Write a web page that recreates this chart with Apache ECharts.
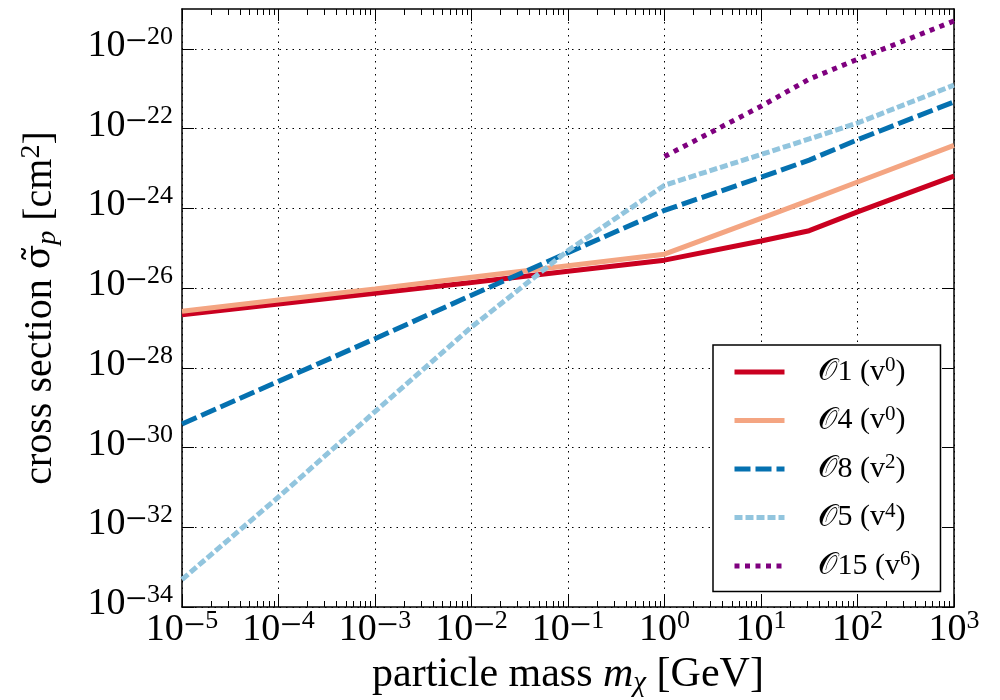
<!DOCTYPE html>
<html><head><meta charset="utf-8">
<script src="https://cdn.jsdelivr.net/npm/echarts@6/dist/echarts.min.js"></script>
<style>html,body{margin:0;padding:0;background:#fff}#c{width:1000px;height:700px}</style>
</head><body><div id="c"></div>
<script>
// particle mass (GeV)
const massGeV = [1e-5, 1e-4, 1e-3, 1e-2, 1e-1, 1, 10, 31.6, 100, 1000];
// cross sections (cm^2)
const sigmaO1  = [2.14e-27, 3.98e-27, 7.41e-27, 1.38e-26, 2.63e-26, 5.01e-26, 1.51e-25, 2.75e-25, 8.13e-25, 6.46e-24];
const sigmaO4  = [2.63e-27, 5.01e-27, 9.55e-27, 1.86e-26, 3.63e-26, 7.08e-26, 5.62e-25, 1.58e-24, 4.57e-24, 3.80e-23];
const sigmaO8  = [3.89e-30, 4.57e-29, 5.37e-28, 6.61e-27, 7.76e-26, 8.91e-25, 6.03e-24, 1.62e-23, 5.25e-23, 4.68e-22];
const sigmaO5  = [4.90e-34, 5.75e-32, 7.94e-30, 1.05e-27, 8.71e-26, 3.80e-24, 2.24e-23, 5.50e-23, 1.38e-22, 1.23e-21];
const sigmaO15 = [null, null, null, null, null, 2.00e-23, 3.63e-22, 1.74e-21, 5.50e-21, 5.01e-20];

const seriesOperators = ['1', '4', '8', '5', '15'];
const seriesVelocityPowers = ['0', '0', '2', '4', '6'];
const seriesValues = [sigmaO1, sigmaO4, sigmaO8, sigmaO5, sigmaO15];

const xTickExponents = [-5, -4, -3, -2, -1, 0, 1, 2, 3];
const yTickExponents = [-34, -32, -30, -28, -26, -24, -22, -20];

const colors = ['#ca0020', '#f4a582', '#0571b0', '#92c5de', '#7f007f'];
const dashes = ['solid', 'solid', [16, 5], [8, 3], [5, 5.5]];

const FONT = 'Liberation Serif';
const pow10 = n => Number('1e' + n);
const xMajor = xTickExponents.map(pow10);
const yMajor = yTickExponents.map(pow10);
const xMinor = [];
for (let n = -5; n < 3; n++) for (let k = 2; k <= 9; k++) xMinor.push(Number(k + 'e' + n));

const tickRich = {
  b: { fontFamily: FONT, fontSize: 38, lineHeight: 44, color: '#000' },
  m: { fontFamily: FONT, fontSize: 38, lineHeight: 19, verticalAlign: 'top', color: '#000' },
  s: { fontFamily: FONT, fontSize: 26, lineHeight: 26, verticalAlign: 'top', color: '#000' }
};
function powLabel(v) {
  const e = Math.round(Math.log10(v));
  return '{b|10}' + (e < 0 ? '{m|\u2212}{s|' + (-e) + '}' : '{s|' + e + '}');
}

const names = seriesOperators.map((o, i) => 'O' + o + ' (v' + seriesVelocityPowers[i] + ')');

const series = seriesValues.map((vals, i) => ({
  name: names[i],
  type: 'line',
  xAxisIndex: 0, yAxisIndex: 0,
  data: massGeV.map((m, j) => [m, vals[j]]).filter(p => p[1] != null),
  symbol: 'none',
  showSymbol: false,
  animation: false,
  lineStyle: { color: colors[i], width: 5, type: dashes[i], cap: 'butt' },
  itemStyle: { color: colors[i] }
}));

const baseX = { type: 'log', logBase: 10, min: 1e-5, max: 1e3, gridIndex: 0 };
const baseY = { type: 'log', logBase: 10, min: 1e-34, max: 1e-19, gridIndex: 0 };
const hidden = { axisLabel: { show: false }, splitLine: { show: false } };

const option = {
  backgroundColor: '#fff',
  animation: false,
  grid: { left: 182, right: 46, top: 9, bottom: 93, containLabel: false, outerBoundsMode: 'none' },
  legend: {
    orient: 'vertical', left: 713, top: 345,
    padding: [10, 20, 10, 19],
    itemGap: 16, itemWidth: 50, itemHeight: 6,
    backgroundColor: '#fff', borderColor: '#000', borderWidth: 1.5, borderRadius: 0,
    data: names,
    lineStyle: { width: 5 },
    itemStyle: { opacity: 0 },
    formatter: name => {
      const i = names.indexOf(name);
      return '{o|\uD835\uDCAA}{n|' + seriesOperators[i] + ' (v}{s|' + seriesVelocityPowers[i] + '}{n|)}';
    },
    textStyle: {
      fontFamily: FONT, fontSize: 30, color: '#000', padding: [0, 0, 0, 28],
      rich: {
        o: { fontFamily: FONT, fontSize: 31, lineHeight: 34, color: '#000' },
        n: { fontFamily: FONT, fontSize: 30, lineHeight: 34, color: '#000' },
        s: { fontFamily: FONT, fontSize: 21, lineHeight: 22, verticalAlign: 'top', color: '#000' }
      }
    }
  },
  xAxis: [
    Object.assign({}, baseX, {
      position: 'bottom',
      name: '{t|particle mass }{i|m}{sub|\u03C7}{t| [GeV]}',
      nameLocation: 'middle', nameGap: 45, nameMoveOverlap: false,
      nameTextStyle: {
        rich: {
          t: { fontFamily: FONT, fontSize: 42, lineHeight: 46, color: '#000' },
          i: { fontFamily: FONT, fontSize: 42, lineHeight: 46, fontStyle: 'italic', color: '#000' },
          sub: { fontFamily: FONT, fontSize: 29, lineHeight: 20, verticalAlign: 'bottom', fontStyle: 'italic', color: '#000' }
        }
      },
      axisLine: { show: true, onZero: false, lineStyle: { color: '#000', width: 1.5 } },
      axisTick: { show: true, inside: true, length: 12, customValues: xMajor, lineStyle: { color: '#000', width: 1 } },
      axisLabel: { show: true, customValues: xMajor, margin: 1, formatter: powLabel, rich: tickRich, hideOverlap: false, showMinLabel: true, showMaxLabel: true },
      splitLine: { show: true, lineStyle: { color: '#000', width: 1, type: [1.5, 5] } },
      minorTick: { show: false }
    }),
    Object.assign({}, baseX, hidden, {
      position: 'bottom',
      axisLine: { show: false, onZero: false },
      axisTick: { show: true, inside: true, length: 6, customValues: xMinor, lineStyle: { color: '#000', width: 1 } }
    }),
    Object.assign({}, baseX, hidden, {
      position: 'top',
      axisLine: { show: true, onZero: false, lineStyle: { color: '#000', width: 1.5 } },
      axisTick: { show: true, inside: true, length: 12, customValues: xMajor, lineStyle: { color: '#000', width: 1 } }
    }),
    Object.assign({}, baseX, hidden, {
      position: 'top',
      axisLine: { show: false, onZero: false },
      axisTick: { show: true, inside: true, length: 6, customValues: xMinor, lineStyle: { color: '#000', width: 1 } }
    })
  ],
  yAxis: [
    Object.assign({}, baseY, {
      position: 'left',
      name: '{t|cross section }{g|\u03C3\u0303}{sub|p}{t| [cm}{sup|2}{t|]}',
      nameLocation: 'middle', nameGap: 120, nameRotate: 90, nameMoveOverlap: false,
      nameTextStyle: {
        rich: {
          t: { fontFamily: FONT, fontSize: 40, lineHeight: 44, color: '#000' },
          g: { fontFamily: 'DejaVu Serif', fontSize: 36, lineHeight: 44, color: '#000' },
          sub: { fontFamily: FONT, fontSize: 28, lineHeight: 20, verticalAlign: 'bottom', fontStyle: 'italic', color: '#000' },
          sup: { fontFamily: FONT, fontSize: 28, lineHeight: 26, verticalAlign: 'top', color: '#000' }
        }
      },
      axisLine: { show: true, onZero: false, lineStyle: { color: '#000', width: 1.5 } },
      axisTick: { show: true, inside: true, length: 12, customValues: yMajor, lineStyle: { color: '#000', width: 1 } },
      axisLabel: { show: true, customValues: yMajor, margin: 9, padding: [0, 0, 6, 0], formatter: powLabel, rich: tickRich, hideOverlap: false, showMinLabel: true, showMaxLabel: true },
      splitLine: { show: true, lineStyle: { color: '#000', width: 1, type: [1.5, 5] } },
      minorTick: { show: false }
    }),
    Object.assign({}, baseY, hidden, {
      position: 'right',
      axisLine: { show: true, onZero: false, lineStyle: { color: '#000', width: 1.5 } },
      axisTick: { show: true, inside: true, length: 12, customValues: yMajor, lineStyle: { color: '#000', width: 1 } }
    })
  ],
  series: series
};

const chart = echarts.init(document.getElementById('c'), null, { renderer: 'canvas' });
chart.setOption(option);
</script>
</body></html>
